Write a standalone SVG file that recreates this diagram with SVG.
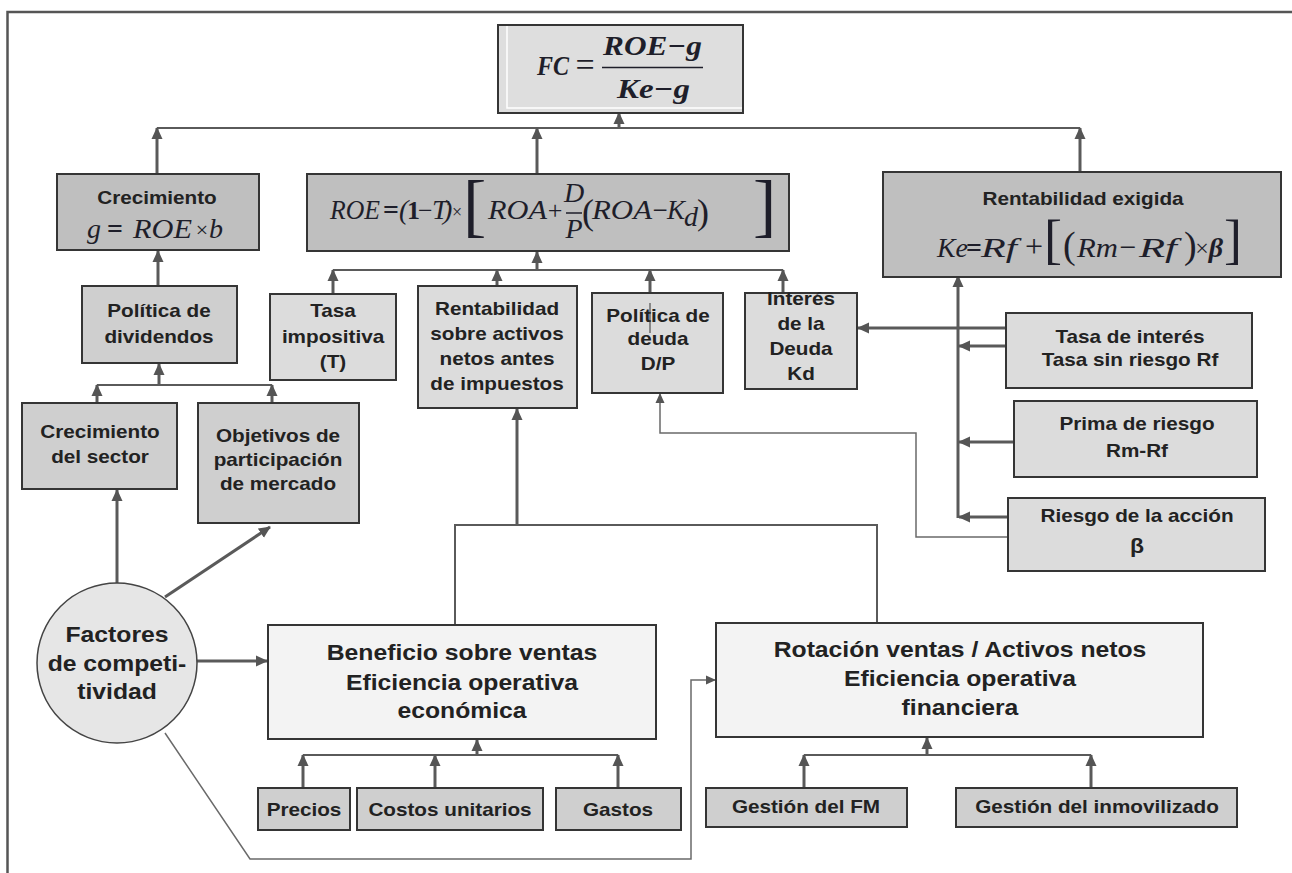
<svg xmlns="http://www.w3.org/2000/svg" width="1292" height="873" viewBox="0 0 1292 873">
<style>
.bx{stroke:#353535;stroke-width:2}
.dk{fill:#bfbfbf}.md{fill:#cfcfcf}.lt{fill:#dcdcdc}.wh{fill:#f3f3f3}
.b{font-family:"Liberation Sans",Arial,sans-serif;font-weight:bold;font-size:18px;fill:#222;text-anchor:middle}
.r{font-family:"Liberation Sans",Arial,sans-serif;font-weight:bold;font-size:21.5px;fill:#222;text-anchor:middle}
.m{font-family:"Liberation Serif","Times New Roman",serif;font-style:italic;font-size:28px;fill:#1e1e2a}
.u{font-family:"Liberation Serif","Times New Roman",serif;font-style:normal;fill:#1e1e2a}
.c{fill:none;stroke:#5a5a5a;stroke-width:3}
.c2{fill:none;stroke:#5a5a5a;stroke-width:2}
.th{fill:none;stroke:#6a6a6a;stroke-width:1.5}
</style>
<defs>
<marker id="ah" markerUnits="userSpaceOnUse" markerWidth="12" markerHeight="12" viewBox="0 0 12 12" refX="11" refY="6" orient="auto"><path d="M0,0.5 L12,6 L0,11.5 z" fill="#555"/></marker>
<marker id="as" markerUnits="userSpaceOnUse" markerWidth="10" markerHeight="10" viewBox="0 0 10 10" refX="9" refY="5" orient="auto"><path d="M0,0.5 L10,5 L0,9.5 z" fill="#555"/></marker>
</defs>
<rect width="1292" height="873" fill="#fff"/>
<path d="M7.5,873 V12 H1292" fill="none" stroke="#555" stroke-width="2.5"/>

<g id="connectors">
<path class="c2" d="M157,128 H1080"/>
<path class="c" d="M157,174 V128" marker-end="url(#ah)"/>
<path class="c" d="M537,174 V128" marker-end="url(#ah)"/>
<path class="c" d="M1080,172 V128" marker-end="url(#ah)"/>
<path class="c" d="M619,128 V113" marker-end="url(#ah)"/>
<path class="c" d="M158,286 V251" marker-end="url(#ah)"/>
<path class="c2" d="M97,385 H272"/>
<path class="c" d="M97,403 V385" marker-end="url(#ah)"/>
<path class="c" d="M272,403 V385" marker-end="url(#ah)"/>
<path class="c" d="M159,385 V364" marker-end="url(#ah)"/>
<path class="c" d="M117,583 V490" marker-end="url(#ah)"/>
<path class="c" d="M165,597 L270,527" marker-end="url(#ah)"/>
<path class="c" d="M196,661 H267" marker-end="url(#ah)"/>
<path class="th" d="M165,733 L250,859 H691 V680 H715" marker-end="url(#as)"/>
<path class="c2" d="M333,270 H783"/>
<path class="c" d="M333,294 V270" marker-end="url(#ah)"/>
<path class="c" d="M497,286 V270" marker-end="url(#ah)"/>
<path class="c" d="M650,293 V270" marker-end="url(#ah)"/>
<path class="c" d="M783,293 V270" marker-end="url(#ah)"/>
<path class="c" d="M537,270 V252" marker-end="url(#ah)"/>
<path class="c2" d="M455,625 V525 H877 V623"/>
<path class="c" d="M517,525 V409" marker-end="url(#ah)"/>
<path class="th" d="M1008,537 H916 V433 H660 V394" marker-end="url(#as)"/>
<path class="c" d="M958,518 V276" marker-end="url(#ah)"/>
<path class="c" d="M1007,346 H959" marker-end="url(#ah)"/>
<path class="c" d="M1014,442 H959" marker-end="url(#ah)"/>
<path class="c" d="M1008,517 H959" marker-end="url(#ah)"/>
<path class="c" d="M1007,328 H858" marker-end="url(#ah)"/>
<path class="c2" d="M303,755 H618"/>
<path class="c" d="M303,787 V755" marker-end="url(#ah)"/>
<path class="c" d="M435,787 V755" marker-end="url(#ah)"/>
<path class="c" d="M618,787 V755" marker-end="url(#ah)"/>
<path class="c" d="M477,755 V740" marker-end="url(#ah)"/>
<path class="c2" d="M804,755 H1091"/>
<path class="c" d="M804,787 V755" marker-end="url(#ah)"/>
<path class="c" d="M1091,787 V755" marker-end="url(#ah)"/>
<path class="c" d="M927,755 V738" marker-end="url(#ah)"/>
</g>

<g id="n-fc">
<rect class="bx" x="498" y="25" width="245" height="88" fill="#dedede"/>
<path d="M507,26 V108 H742" fill="none" stroke="#fff" stroke-width="1.5"/>
<text class="m" x="537" y="75" textLength="32" lengthAdjust="spacingAndGlyphs" font-weight="bold">FC</text>
<text class="u" x="585" y="76" font-size="34" text-anchor="middle">=</text>
<text class="m" x="603" y="55" textLength="99" lengthAdjust="spacingAndGlyphs" font-weight="bold">ROE−g</text>
<line x1="602" y1="67.5" x2="703" y2="67.5" stroke="#1e1e2a" stroke-width="1.6"/>
<text class="m" x="617" y="98" textLength="73" lengthAdjust="spacingAndGlyphs" font-weight="bold">Ke−g</text>
</g>

<g id="n-crecimiento">
<rect class="bx dk" x="57" y="174" width="202" height="76"/>
<text class="b" transform="translate(157 0) scale(1.15 1)" x="0" y="204">Crecimiento</text>
<text class="m" x="94" y="238" text-anchor="middle">g</text>
<text class="u" x="115" y="238" font-size="28" font-weight="bold" text-anchor="middle">=</text>
<text class="m" x="133" y="238" textLength="59" lengthAdjust="spacingAndGlyphs">ROE</text>
<text class="u" x="202" y="237" font-size="22" text-anchor="middle">×</text>
<text class="m" x="216" y="238" text-anchor="middle">b</text>
</g>

<g id="n-roe">
<rect class="bx dk" x="307" y="174" width="482" height="77"/>
<text class="m" x="330" y="219" textLength="50" lengthAdjust="spacingAndGlyphs">ROE</text>
<text class="u" x="391" y="219" font-size="28" font-weight="bold" text-anchor="middle">=</text>
<text class="m" x="399" y="219" fill="#2a3f7a">(</text>
<text class="u" x="407" y="219" font-size="26" font-weight="bold">1</text>
<text class="u" x="418" y="219" font-size="26">−</text>
<text class="m" x="432" y="219">T</text>
<text class="m" x="443" y="219" fill="#2a3f7a">)</text>
<text class="u" x="457" y="218" font-size="18" text-anchor="middle">×</text>
<text class="u" x="463" y="229" font-size="70">[</text>
<text class="m" x="488" y="219" textLength="59" lengthAdjust="spacingAndGlyphs">ROA</text>
<text class="u" x="555" y="219" font-size="26" text-anchor="middle">+</text>
<text class="m" x="574" y="202" font-size="24" text-anchor="middle">D</text>
<line x1="566" y1="213" x2="582" y2="213" stroke="#1e1e2a" stroke-width="1.5"/>
<text class="m" x="574" y="238" font-size="24" text-anchor="middle">P</text>
<text class="u" x="582" y="224" font-size="36">(</text>
<text class="m" x="592" y="219" textLength="60" lengthAdjust="spacingAndGlyphs">ROA</text>
<text class="u" x="660" y="219" font-size="27" text-anchor="middle">−</text>
<text class="m" x="667" y="219" textLength="18" lengthAdjust="spacingAndGlyphs">K</text>
<text class="m" x="684" y="226" font-size="14">d</text>
<text class="u" x="697" y="224" font-size="36">)</text>
<text class="u" x="753" y="229" font-size="70">]</text>
</g>

<g id="n-ke">
<rect class="bx dk" x="883" y="172" width="398" height="105"/>
<text class="b" transform="translate(1083 0) scale(1.15 1)" x="0" y="205">Rentabilidad exigida</text>
<text class="m" x="937" y="257" font-size="32" textLength="31" lengthAdjust="spacingAndGlyphs">Ke</text>
<text class="u" x="974" y="257" font-size="28" font-weight="bold" text-anchor="middle">=</text>
<text class="m" x="981" y="257" font-size="32" textLength="36" lengthAdjust="spacingAndGlyphs">Rf</text>
<text class="u" x="1034" y="257" font-size="32" text-anchor="middle">+</text>
<text class="u" x="1044" y="258" font-size="54">[</text>
<text class="u" x="1063" y="258" font-size="38">(</text>
<text class="m" x="1077" y="257" font-size="32" textLength="41" lengthAdjust="spacingAndGlyphs">Rm</text>
<text class="u" x="1128" y="257" font-size="30" text-anchor="middle">−</text>
<text class="m" x="1139" y="257" font-size="32" textLength="38" lengthAdjust="spacingAndGlyphs">Rf</text>
<text class="u" x="1184" y="258" font-size="38">)</text>
<text class="u" x="1202" y="256" font-size="24" text-anchor="middle">×</text>
<text class="m" x="1216" y="257" font-size="30" font-weight="bold" text-anchor="middle">β</text>
<text class="u" x="1224" y="258" font-size="54">]</text>
</g>

<g id="n-politica-div">
<rect class="bx md" x="82" y="286" width="155" height="77"/>
<text class="b" transform="translate(159 0) scale(1.15 1)"><tspan x="0" y="317">Política de</tspan><tspan x="0" y="343">dividendos</tspan></text>
</g>

<g id="n-crec-sector">
<rect class="bx md" x="22" y="403" width="155" height="86"/>
<text class="b" transform="translate(100 0) scale(1.15 1)"><tspan x="0" y="438">Crecimiento</tspan><tspan x="0" y="463">del sector</tspan></text>
</g>

<g id="n-objetivos">
<rect class="bx md" x="198" y="403" width="161" height="120"/>
<text class="b" transform="translate(278 0) scale(1.15 1)"><tspan x="0" y="442">Objetivos de</tspan><tspan x="0" y="466">participación</tspan><tspan x="0" y="490">de mercado</tspan></text>
</g>

<g id="n-tasa-imp">
<rect class="bx lt" x="270" y="294" width="126" height="86"/>
<text class="b" transform="translate(333 0) scale(1.15 1)"><tspan x="0" y="317">Tasa</tspan><tspan x="0" y="343">impositiva</tspan><tspan x="0" y="368">(T)</tspan></text>
</g>

<g id="n-rentab">
<rect class="bx lt" x="418" y="286" width="159" height="122"/>
<text class="b" transform="translate(497 0) scale(1.15 1)"><tspan x="0" y="315">Rentabilidad</tspan><tspan x="0" y="340">sobre activos</tspan><tspan x="0" y="365">netos antes</tspan><tspan x="0" y="390">de impuestos</tspan></text>
</g>

<g id="n-pol-deuda">
<rect class="bx lt" x="592" y="293" width="131" height="100"/>
<text class="b" transform="translate(658 0) scale(1.15 1)"><tspan x="0" y="322">Política de</tspan><tspan x="0" y="345">deuda</tspan><tspan x="0" y="370">D/P</tspan></text>
<line x1="650" y1="303" x2="650" y2="333" stroke="#333" stroke-width="1"/>
</g>

<g id="n-interes">
<rect class="bx lt" x="745" y="293" width="112" height="96"/>
<text class="b" transform="translate(801 0) scale(1.15 1)"><tspan x="0" y="305">Interés</tspan><tspan x="0" y="330">de la</tspan><tspan x="0" y="355">Deuda</tspan><tspan x="0" y="380">Kd</tspan></text>
</g>

<g id="n-tasa-int">
<rect class="bx lt" x="1006" y="313" width="246" height="75"/>
<text class="b" transform="translate(1130 0) scale(1.15 1)"><tspan x="0" y="343">Tasa de interés</tspan><tspan x="0" y="366">Tasa sin riesgo Rf</tspan></text>
</g>

<g id="n-prima">
<rect class="bx lt" x="1014" y="401" width="243" height="76"/>
<text class="b" transform="translate(1137 0) scale(1.15 1)"><tspan x="0" y="430">Prima de riesgo</tspan><tspan x="0" y="457">Rm-Rf</tspan></text>
</g>

<g id="n-riesgo">
<rect class="bx lt" x="1008" y="498" width="257" height="73"/>
<text class="b" transform="translate(1137 0) scale(1.15 1)"><tspan x="0" y="522">Riesgo de la acción</tspan><tspan x="0" y="553" font-size="20">β</tspan></text>
</g>

<g id="n-factores">
<circle cx="117" cy="663" r="80" fill="#e6e6e6" stroke="#444" stroke-width="1.5"/>
<text class="r" font-size="21" transform="translate(117 0) scale(1.15 1)"><tspan x="0" y="642">Factores</tspan><tspan x="0" y="671">de competi-</tspan><tspan x="0" y="699">tividad</tspan></text>
</g>

<g id="n-beneficio">
<rect class="bx wh" x="268" y="625" width="388" height="114"/>
<text class="r" transform="translate(462 0) scale(1.15 1)"><tspan x="0" y="660">Beneficio sobre ventas</tspan><tspan x="0" y="690">Eficiencia operativa</tspan><tspan x="0" y="718">económica</tspan></text>
</g>

<g id="n-rotacion">
<rect class="bx wh" x="716" y="623" width="487" height="114"/>
<text class="r" transform="translate(960 0) scale(1.15 1)"><tspan x="0" y="657">Rotación ventas / Activos netos</tspan><tspan x="0" y="686">Eficiencia operativa</tspan><tspan x="0" y="715">financiera</tspan></text>
</g>

<g id="n-precios">
<rect class="bx md" x="258" y="788" width="92" height="42"/>
<text class="b" transform="translate(304 0) scale(1.15 1)" x="0" y="816">Precios</text>
</g>
<g id="n-costos">
<rect class="bx md" x="357" y="788" width="186" height="42"/>
<text class="b" transform="translate(450 0) scale(1.15 1)" x="0" y="816">Costos unitarios</text>
</g>
<g id="n-gastos">
<rect class="bx md" x="556" y="788" width="125" height="42"/>
<text class="b" transform="translate(618 0) scale(1.15 1)" x="0" y="816">Gastos</text>
</g>
<g id="n-gestion-fm">
<rect class="bx md" x="706" y="788" width="201" height="39"/>
<text class="b" transform="translate(806 0) scale(1.15 1)" x="0" y="813">Gestión del FM</text>
</g>
<g id="n-gestion-inm">
<rect class="bx md" x="956" y="788" width="281" height="39"/>
<text class="b" transform="translate(1097 0) scale(1.15 1)" x="0" y="813">Gestión del inmovilizado</text>
</g>
</svg>
